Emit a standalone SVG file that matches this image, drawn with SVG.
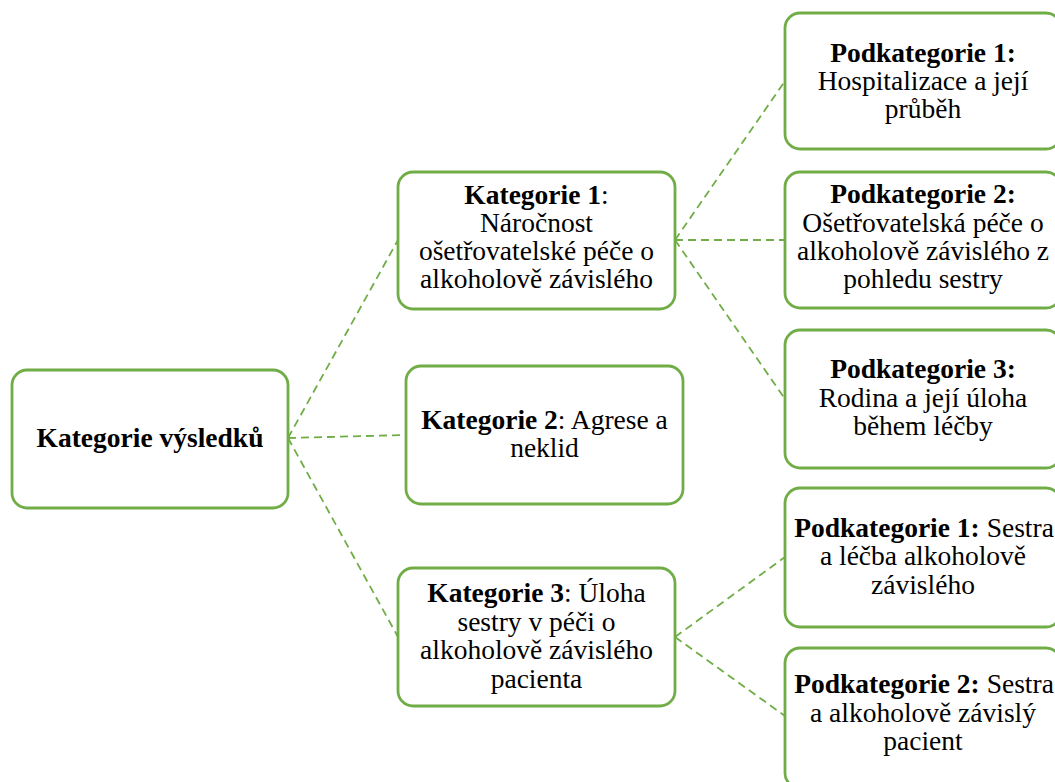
<svg xmlns="http://www.w3.org/2000/svg" width="1055" height="782" viewBox="0 0 1055 782">
<style>
.box{fill:#fff;stroke:#70AD47;stroke-width:2.8}
.t{font-family:"Liberation Serif","Times New Roman",serif;font-size:27.5px;fill:#000;text-anchor:middle}
.b{font-weight:bold}
.c{fill:none;stroke:#70AD47;stroke-width:1.8;stroke-dasharray:8 5}
</style>
<rect width="1055" height="782" fill="#fff"/>
<g id="connectors">
<line class="c" x1="288" y1="438" x2="398" y2="240"/>
<line class="c" x1="288" y1="438" x2="406" y2="435"/>
<line class="c" x1="288" y1="438" x2="398" y2="637"/>
<line class="c" x1="675" y1="240" x2="785" y2="81"/>
<line class="c" x1="675" y1="240" x2="785" y2="240"/>
<line class="c" x1="675" y1="240" x2="785" y2="399"/>
<line class="c" x1="675" y1="637" x2="785" y2="557"/>
<line class="c" x1="675" y1="637" x2="785" y2="716"/>
</g>
<g id="root">
<rect class="box" x="12" y="370" width="276" height="138" rx="15"/>
<text class="t b" x="150" y="447">Kategorie výsledků</text>
</g>
<g id="k1">
<rect class="box" x="398" y="172" width="277" height="137" rx="15"/>
<text class="t" x="536.5" y="204"><tspan class="b">Kategorie 1</tspan>:</text>
<text class="t" x="536.5" y="232">Náročnost</text>
<text class="t" x="536.5" y="260">ošetřovatelské péče o</text>
<text class="t" x="536.5" y="288">alkoholově závislého</text>
</g>
<g id="k2">
<rect class="box" x="406" y="366" width="277" height="138" rx="15"/>
<text class="t" x="544.5" y="429"><tspan class="b">Kategorie 2</tspan>: Agrese a</text>
<text class="t" x="544.5" y="457">neklid</text>
</g>
<g id="k3">
<rect class="box" x="398" y="568" width="277" height="138" rx="15"/>
<text class="t" x="536.5" y="602"><tspan class="b">Kategorie 3</tspan>: Úloha</text>
<text class="t" x="536.5" y="630.5">sestry v péči o</text>
<text class="t" x="536.5" y="659">alkoholově závislého</text>
<text class="t" x="536.5" y="687.5">pacienta</text>
</g>
<g id="p11">
<rect class="box" x="785" y="13" width="276" height="136" rx="15"/>
<text class="t b" x="923" y="62">Podkategorie 1:</text>
<text class="t" x="923" y="90">Hospitalizace a její</text>
<text class="t" x="923" y="118">průběh</text>
</g>
<g id="p12">
<rect class="box" x="785" y="172" width="276" height="136" rx="15"/>
<text class="t b" x="923" y="203">Podkategorie 2:</text>
<text class="t" x="923" y="231.5">Ošetřovatelská péče o</text>
<text class="t" x="923" y="260">alkoholově závislého z</text>
<text class="t" x="923" y="288">pohledu sestry</text>
</g>
<g id="p13">
<rect class="box" x="785" y="330" width="276" height="138" rx="15"/>
<text class="t b" x="923" y="378">Podkategorie 3:</text>
<text class="t" x="923" y="406.5">Rodina a její úloha</text>
<text class="t" x="923" y="435">během léčby</text>
</g>
<g id="p31">
<rect class="box" x="785" y="488" width="276" height="139" rx="15"/>
<text class="t" x="924" y="536.5"><tspan class="b">Podkategorie 1:</tspan> Sestra</text>
<text class="t" x="923" y="565">a léčba alkoholově</text>
<text class="t" x="923" y="593.5">závislého</text>
</g>
<g id="p32">
<rect class="box" x="785" y="648" width="276" height="140" rx="15"/>
<text class="t" x="924" y="693"><tspan class="b">Podkategorie 2:</tspan> Sestra</text>
<text class="t" x="923" y="721.5">a alkoholově závislý</text>
<text class="t" x="923" y="750">pacient</text>
</g>
</svg>
